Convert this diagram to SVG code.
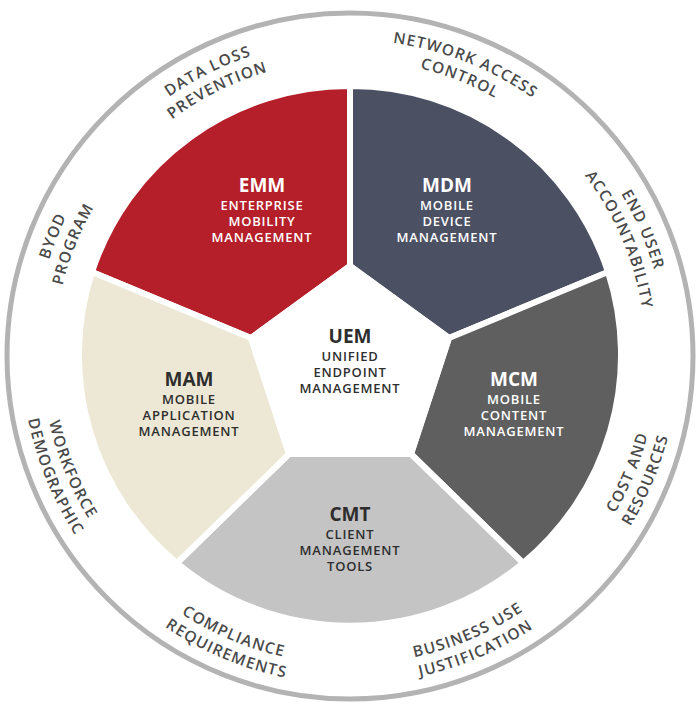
<svg xmlns="http://www.w3.org/2000/svg" width="700" height="704" viewBox="0 0 700 704">
<style>
.ring{font-family:"Open Sans","Liberation Sans",sans-serif;font-size:15.5px;fill:#4a4a4a;letter-spacing:1.2px;font-weight:600}
.t{font-family:"Open Sans","Liberation Sans",sans-serif;font-size:19px;font-weight:700;text-anchor:middle}
.s{font-family:"Open Sans","Liberation Sans",sans-serif;font-size:13px;text-anchor:middle;letter-spacing:0.8px;font-weight:600}
.w{fill:#fff}.d{fill:#2e2e2e}
.seg{stroke:#fff;stroke-width:6;stroke-linejoin:round}
</style>
<defs>
<path id="cw316" d="M350,672 A316,316 0 1 1 350,40 A316,316 0 1 1 350,672"/>
<path id="cw296" d="M350,652 A296,296 0 1 1 350,60 A296,296 0 1 1 350,652"/>
<path id="ccw308" d="M350,48 A308,308 0 1 0 350,664 A308,308 0 1 0 350,48"/>
<path id="ccw328" d="M350,28 A328,328 0 1 0 350,684 A328,328 0 1 0 350,28"/>
</defs>
<circle cx="350" cy="356" r="343" fill="#fff" stroke="#b3b3b3" stroke-width="5"/>
<g id="connectors"></g>
<g id="emm"><path class="seg" fill="#b51f29" d="M350,266 L350,86 A270,270 0 0 0 92,272 L251,338 Z"/>
<text class="t w" x="262" y="192">EMM</text><text class="s w" x="262" y="210">ENTERPRISE</text><text class="s w" x="262" y="226">MOBILITY</text><text class="s w" x="262" y="242">MANAGEMENT</text></g>
<g id="mdm"><path class="seg" fill="#4b5063" d="M350,266 L350,86 A270,270 0 0 1 608,272 L449,338 Z"/>
<text class="t w" x="447" y="192">MDM</text><text class="s w" x="447" y="210">MOBILE</text><text class="s w" x="447" y="226">DEVICE</text><text class="s w" x="447" y="242">MANAGEMENT</text></g>
<g id="mcm"><path class="seg" fill="#5f5f5f" d="M449,338 L608,272 A270,270 0 0 1 523,563 L411,454 Z"/>
<text class="t w" x="514" y="386">MCM</text><text class="s w" x="514" y="404">MOBILE</text><text class="s w" x="514" y="420">CONTENT</text><text class="s w" x="514" y="436">MANAGEMENT</text></g>
<g id="cmt"><path class="seg" fill="#c4c4c4" d="M411,454 L523,563 A270,270 0 0 1 177,563 L289,454 Z"/>
<text class="t d" x="350" y="521">CMT</text><text class="s d" x="350" y="539">CLIENT</text><text class="s d" x="350" y="555">MANAGEMENT</text><text class="s d" x="350" y="571">TOOLS</text></g>
<g id="mam"><path class="seg" fill="#ede8d5" d="M289,454 L177,563 A270,270 0 0 1 92,272 L251,338 Z"/>
<text class="t d" x="189" y="386">MAM</text><text class="s d" x="189" y="404">MOBILE</text><text class="s d" x="189" y="420">APPLICATION</text><text class="s d" x="189" y="436">MANAGEMENT</text></g>
<g id="uem"><path class="seg" fill="#fff" d="M350,266 L449,338 L411,454 L289,454 L251,338 Z"/>
<text class="t d" x="350" y="343">UEM</text><text class="s d" x="350" y="361">UNIFIED</text><text class="s d" x="350" y="377">ENDPOINT</text><text class="s d" x="350" y="393">MANAGEMENT</text></g>
<g id="labels" class="ring" text-anchor="middle">
<g transform="rotate(-26.5 350 356)"><text><textPath href="#cw316" startOffset="50%">DATA LOSS</textPath></text><text><textPath href="#cw296" startOffset="50%">PREVENTION</textPath></text></g>
<g transform="rotate(21.6 350 356)"><text><textPath href="#cw316" startOffset="50%">NETWORK ACCESS</textPath></text><text><textPath href="#cw296" startOffset="50%">CONTROL</textPath></text></g>
<g transform="rotate(66.7 350 356)"><text><textPath href="#cw316" startOffset="50%">END USER</textPath></text><text><textPath href="#cw296" startOffset="50%">ACCOUNTABILITY</textPath></text></g>
<g transform="rotate(292 350 356)"><text><textPath href="#cw316" startOffset="50%">BYOD</textPath></text><text><textPath href="#cw296" startOffset="50%">PROGRAM</textPath></text></g>
<g transform="rotate(-67.3 350 356)"><text><textPath href="#ccw308" startOffset="50%">COST AND</textPath></text><text><textPath href="#ccw328" startOffset="50%">RESOURCES</textPath></text></g>
<g transform="rotate(-23.2 350 356)"><text><textPath href="#ccw308" startOffset="50%">BUSINESS USE</textPath></text><text><textPath href="#ccw328" startOffset="50%">JUSTIFICATION</textPath></text></g>
<g transform="rotate(22.8 350 356)"><text><textPath href="#ccw308" startOffset="50%">COMPLIANCE</textPath></text><text><textPath href="#ccw328" startOffset="50%">REQUIREMENTS</textPath></text></g>
<g transform="rotate(67.8 350 356)"><text><textPath href="#ccw308" startOffset="50%">WORKFORCE</textPath></text><text><textPath href="#ccw328" startOffset="50%">DEMOGRAPHIC</textPath></text></g>
</g>
</svg>
